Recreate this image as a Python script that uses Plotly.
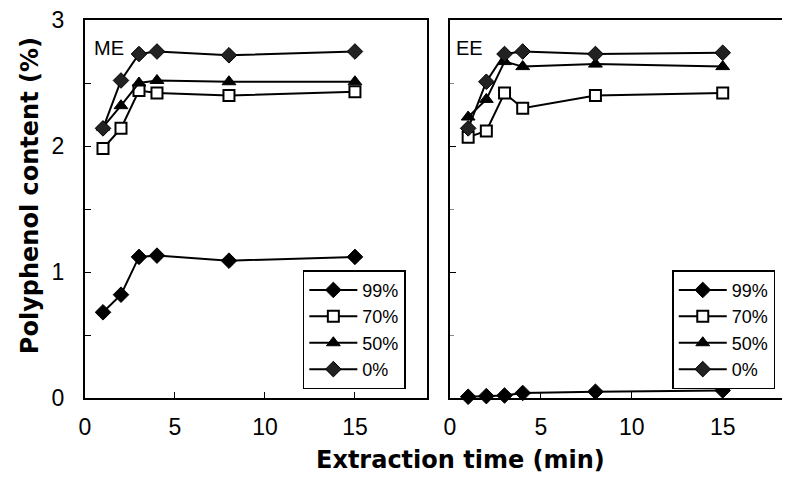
import plotly.graph_objects as go

time_min = [1, 2, 3, 4, 8, 15]
series_names = ["99%", "70%", "50%", "0%"]

# ME panel
me_99 = [0.68, 0.82, 1.12, 1.13, 1.09, 1.12]
me_70 = [1.98, 2.14, 2.44, 2.42, 2.40, 2.43]
me_50 = [2.15, 2.32, 2.50, 2.52, 2.51, 2.51]
me_0 = [2.14, 2.52, 2.73, 2.75, 2.72, 2.75]

# EE panel
ee_99 = [0.01, 0.015, 0.02, 0.04, 0.05, 0.06]
ee_70 = [2.07, 2.12, 2.42, 2.30, 2.40, 2.42]
ee_50 = [2.23, 2.37, 2.67, 2.63, 2.65, 2.63]
ee_0 = [2.14, 2.51, 2.73, 2.75, 2.73, 2.74]

y_ticks = [0, 1, 2, 3]
x_ticks = [0, 5, 10, 15]

FONT = "Arial, Liberation Sans, sans-serif"
BOLD = "DejaVu Sans, Arial, sans-serif"

marker_styles = {
    "99%": dict(symbol="diamond", size=12, color="black", line=dict(color="black", width=1)),
    "70%": dict(symbol="square", size=11, color="white", line=dict(color="black", width=2)),
    "50%": dict(symbol="triangle-up", size=12, color="black", line=dict(color="black", width=1)),
    "0%": dict(symbol="diamond", size=12, color="#222222", line=dict(color="black", width=1)),
}

fig = go.Figure()

panels = [
    ("x", "y", "legend", [me_99, me_70, me_50, me_0]),
    ("x2", "y2", "legend2", [ee_99, ee_70, ee_50, ee_0]),
]
for xa, ya, lg, data in panels:
    for name, vals in zip(series_names, data):
        fig.add_trace(go.Scatter(
            x=time_min, y=vals, name=name, mode="lines+markers",
            xaxis=xa, yaxis=ya, legend=lg, cliponaxis=False,
            line=dict(color="black", width=2),
            marker=marker_styles[name],
        ))

axis_common = dict(
    showline=True, linecolor="black", linewidth=2,
    showgrid=False, zeroline=False,
    ticks="inside", ticklen=6, tickwidth=1, tickcolor="black",
    ticklabeloverflow="allow",
    tickfont=dict(family=FONT, size=23, color="black"),
)

legend_common = dict(
    xanchor="left", yanchor="top",
    bgcolor="white", bordercolor="black", borderwidth=1.5,
    itemwidth=48,
    font=dict(family=FONT, size=18, color="black"),
)

# page body has an 8px default margin: figure is 782x471 so it fills the 790x479 window
fig.update_layout(
    width=782, height=471,
    margin=dict(l=77, r=0, t=12, b=81),
    paper_bgcolor="white", plot_bgcolor="white",
    showlegend=True,
    xaxis=dict(domain=[0, 0.485], range=[0, 19], tickvals=x_ticks, mirror=True,
               anchor="y", ticklabelstandoff=7, **axis_common),
    yaxis=dict(domain=[0, 1], range=[0, 3], tickvals=y_ticks, mirror=True,
               anchor="x", ticklabelstandoff=14,
               minor=dict(dtick=0.5, ticks="inside", ticklen=6, tickcolor="black"),
               **axis_common),
    xaxis2=dict(domain=[0.5177, 1.0], range=[0, 18.7], tickvals=x_ticks, mirror=True,
                anchor="y2", ticklabelstandoff=7, **axis_common),
    yaxis2=dict(domain=[0, 1], range=[0, 3], tickvals=y_ticks, mirror=False,
                anchor="x2", showticklabels=False,
                minor=dict(dtick=0.5, ticks="inside", ticklen=4, tickcolor="#888"),
                **axis_common),
    legend=dict(x=0.309, y=0.338, **legend_common),
    legend2=dict(x=0.833, y=0.338, **legend_common),
    annotations=[
        dict(text="ME", xref="paper", yref="paper", x=0.010, y=0.925,
             xanchor="left", yanchor="middle", showarrow=False,
             font=dict(family=FONT, size=20, color="black")),
        dict(text="EE", xref="paper", yref="paper", x=0.524, y=0.925,
             xanchor="left", yanchor="middle", showarrow=False,
             font=dict(family=FONT, size=20, color="black")),
        dict(text="<b>Polyphenol content (%)</b>", xref="paper", yref="paper",
             x=-0.078, y=0.534, textangle=-90, showarrow=False,
             xanchor="center", yanchor="middle",
             font=dict(family=BOLD, size=24, color="black")),
        dict(text="<b>Extraction time (min)</b>", xref="paper", yref="paper",
             x=0.533, y=-0.164, showarrow=False,
             xanchor="center", yanchor="middle",
             font=dict(family=BOLD, size=24, color="black")),
    ],
)

fig.write_html("out.html")
